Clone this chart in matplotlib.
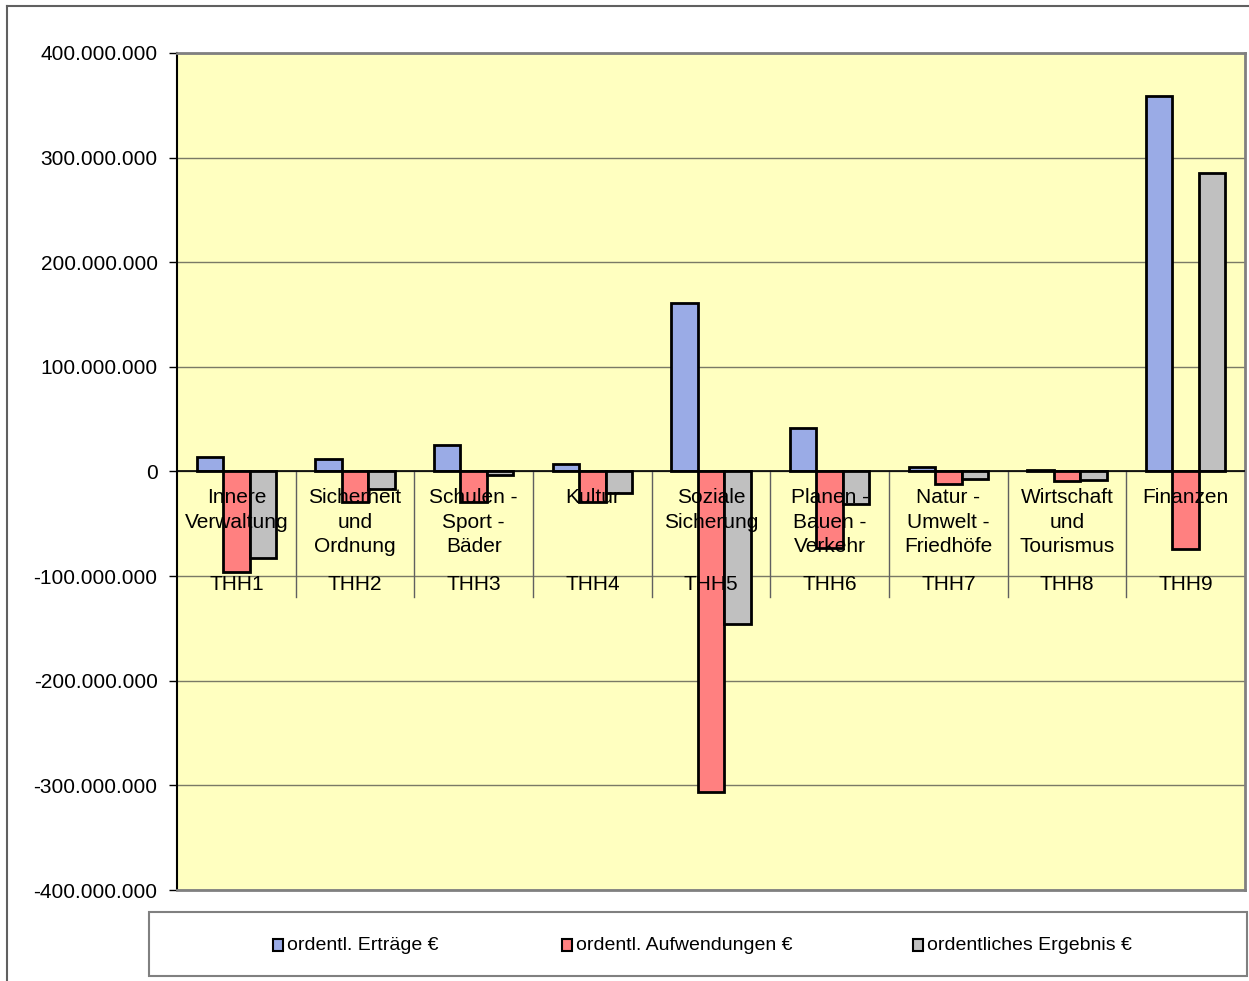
import matplotlib
matplotlib.use("Agg")
import matplotlib.pyplot as plt
from matplotlib.patches import Rectangle
from matplotlib.lines import Line2D
from matplotlib.ticker import FuncFormatter, MultipleLocator
import numpy as np

plt.rcParams['font.family'] = ['Liberation Sans', 'DejaVu Sans']

codes = ["THH1", "THH2", "THH3", "THH4", "THH5", "THH6", "THH7", "THH8", "THH9"]
names = [
    ["Innere", "Verwaltung"],
    ["Sicherheit", "und", "Ordnung"],
    ["Schulen -", "Sport -", "Bäder"],
    ["Kultur"],
    ["Soziale", "Sicherung"],
    ["Planen -", "Bauen -", "Verkehr"],
    ["Natur -", "Umwelt -", "Friedhöfe"],
    ["Wirtschaft", "und", "Tourismus"],
    ["Finanzen"],
]
ertraege = [13.4e6, 12.4e6, 25.8e6, 7.6e6, 160.6e6, 42.0e6, 4.0e6, 1.0e6, 358.5e6]
aufwendungen = [-95.6e6, -28.7e6, -28.7e6, -29.0e6, -306.0e6, -72.7e6, -11.5e6, -9.3e6, -73.6e6]
ergebnis = [-82.2e6, -16.5e6, -3.0e6, -20.5e6, -145.4e6, -31.0e6, -7.6e6, -8.5e6, 284.9e6]
series_labels = ["ordentl. Erträge €", "ordentl. Aufwendungen €", "ordentliches Ergebnis €"]
series_colors = ["#9aabe6", "#ff8080", "#c0c0c0"]

W, H = 1249, 981
fig = plt.figure(figsize=(W / 100, H / 100), dpi=100)

def fx(px):
    return px / W

def fy(py):
    return 1 - py / H

left, right, top, bottom = 177, 1245, 53, 890
ax = fig.add_axes([fx(left), fy(bottom), (right - left) / W, (bottom - top) / H])
ax.set_facecolor("#ffffc0")

x = np.arange(len(codes)) + 0.5
bw = 0.223
for k, (vals, col) in enumerate(zip([ertraege, aufwendungen, ergebnis], series_colors)):
    ax.bar(x + (k - 1) * bw, vals, width=bw, color=col, edgecolor="black",
           linewidth=2.0, zorder=3)

ax.set_xlim(0, len(codes))
ax.set_ylim(-400e6, 400e6)
ax.yaxis.set_major_locator(MultipleLocator(100e6))
ax.yaxis.set_major_formatter(FuncFormatter(lambda v, p: f"{int(round(v)):,}".replace(",", ".")))
ax.set_xticks([])
ax.tick_params(axis="y", labelsize=15, length=6, width=1, pad=8, direction="out", colors="black")
ax.yaxis.grid(True, color="#7a7a66", linewidth=1, zorder=1)
ax.axhline(0, color="black", linewidth=1.2, zorder=4)

for s in ["top", "right", "bottom"]:
    ax.spines[s].set_color("#808080")
    ax.spines[s].set_linewidth(2)
ax.spines["left"].set_color("black")
ax.spines["left"].set_linewidth(1.5)

# category separators (below zero line)
ppy = 800e6 / (bottom - top)  # data units per pixel
def ydata(py):
    return (472 - py) * ppy

for b in range(1, len(codes)):
    ax.plot([b, b], [0, ydata(597)], color="#606060", linewidth=1, zorder=2)

# category labels
for i, (nm, cd) in enumerate(zip(names, codes)):
    for j, line in enumerate(nm):
        ax.text(x[i], ydata(504 + 24 * j), line, ha="center", va="baseline",
                fontsize=15, zorder=6)
    ax.text(x[i], ydata(590), cd, ha="center", va="baseline", fontsize=15, zorder=6)

# outer chart frame
fig.add_artist(Line2D([fx(7), fx(7)], [fy(6), 0], color="#606060", linewidth=1.5))
fig.add_artist(Line2D([fx(7), 1], [fy(6), fy(6)], color="#606060", linewidth=1.5))

# legend box
fig.add_artist(Rectangle((fx(149), fy(976)), (1247 - 149) / W, (976 - 912) / H,
                         facecolor="white", edgecolor="#808080", linewidth=1.5))
marker_x = [273, 562, 913]
for mx, lab, col in zip(marker_x, series_labels, series_colors):
    fig.add_artist(Rectangle((fx(mx), fy(951)), 10 / W, 12 / H, facecolor=col,
                             edgecolor="black", linewidth=1.5))
    fig.text(fx(mx + 14), fy(945), lab, ha="left", va="center", fontsize=14)

fig.savefig("out.png", dpi=100)
